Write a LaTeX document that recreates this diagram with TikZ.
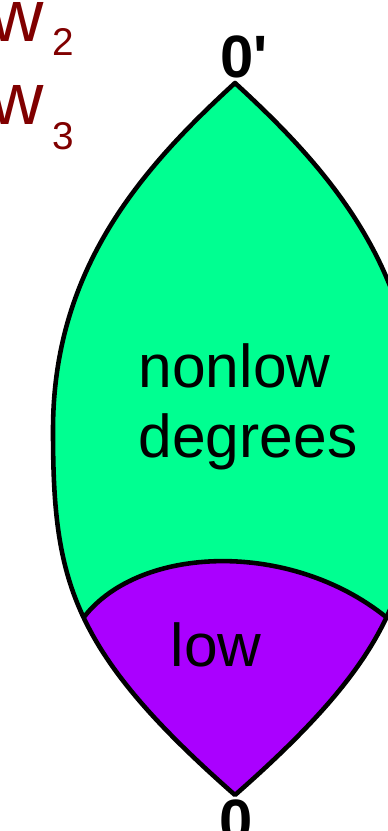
\documentclass[tikz,border=0pt]{standalone}
\usepackage{fontspec}
\setmainfont{Liberation Sans}
\definecolor{nonlowgreen}{RGB}{0,255,145}
\definecolor{lowpurple}{RGB}{170,0,255}
\definecolor{wred}{RGB}{128,0,0}
\begin{document}
\begin{tikzpicture}[x=0.01cm, y=-0.01cm,
    outline/.style={line width=1.3pt, line join=round},
    region/.style={font=\fontsize{17.2}{20}\selectfont, inner sep=0pt, anchor=base west},
    vertex/.style={font=\fontsize{17}{20}\selectfont\bfseries, inner sep=0pt, anchor=base},
    wlabel/.style={font=\fontsize{21}{24}\selectfont, text=wred, inner sep=0pt, anchor=base west}]
    \useasboundingbox (0,0) rectangle (387,831);
    \coordinate (top) at (235,83);
    \coordinate (bot) at (235,795);
    \coordinate (jl) at (84,617);
    \coordinate (jr) at (386,617);
    \begin{scope}
        \clip (top) .. controls (140,170) and (53,270) .. (53,430)
            .. controls (53,580) and (70,650) .. (bot)
            .. controls (400,650) and (417,580) .. (417,430)
            .. controls (417,270) and (330,170) .. (top) -- cycle;
        \fill[nonlowgreen] (0,0) rectangle (440,831);            % nonlow
        \fill[lowpurple] (jl) .. controls (140,545) and (290,540) .. (jr)
            -- (440,617) -- (440,831) -- (30,831) -- (30,617) -- cycle;   % low
        \draw[outline] (jl) .. controls (140,545) and (290,540) .. (jr);
    \end{scope}
    \draw[outline] (top) .. controls (140,170) and (53,270) .. (53,430)
        .. controls (53,580) and (70,650) .. (bot)
        .. controls (400,650) and (417,580) .. (417,430)
        .. controls (417,270) and (330,170) .. (top) -- cycle;
    \node[vertex, anchor=base west] (zerotop) at (220,78) {0\textquotesingle};
    \node[vertex] (zerobot) at (236,841) {0};
    \node[region] (nonlow) at (138,388) {nonlow};
    \node[region] (degrees) at (138,458) {degrees};
    \node[region] (low) at (170,666) {low};
    \node[wlabel] (w2) at (-10,42) {w\hspace{2.5pt}\raisebox{-3.7pt}{\fontsize{11}{13}\selectfont 2}};
    \node[wlabel] (w3) at (-10,125) {w\hspace{2.5pt}\raisebox{-7.1pt}{\fontsize{11}{13}\selectfont 3}};
\end{tikzpicture}
\end{document}
